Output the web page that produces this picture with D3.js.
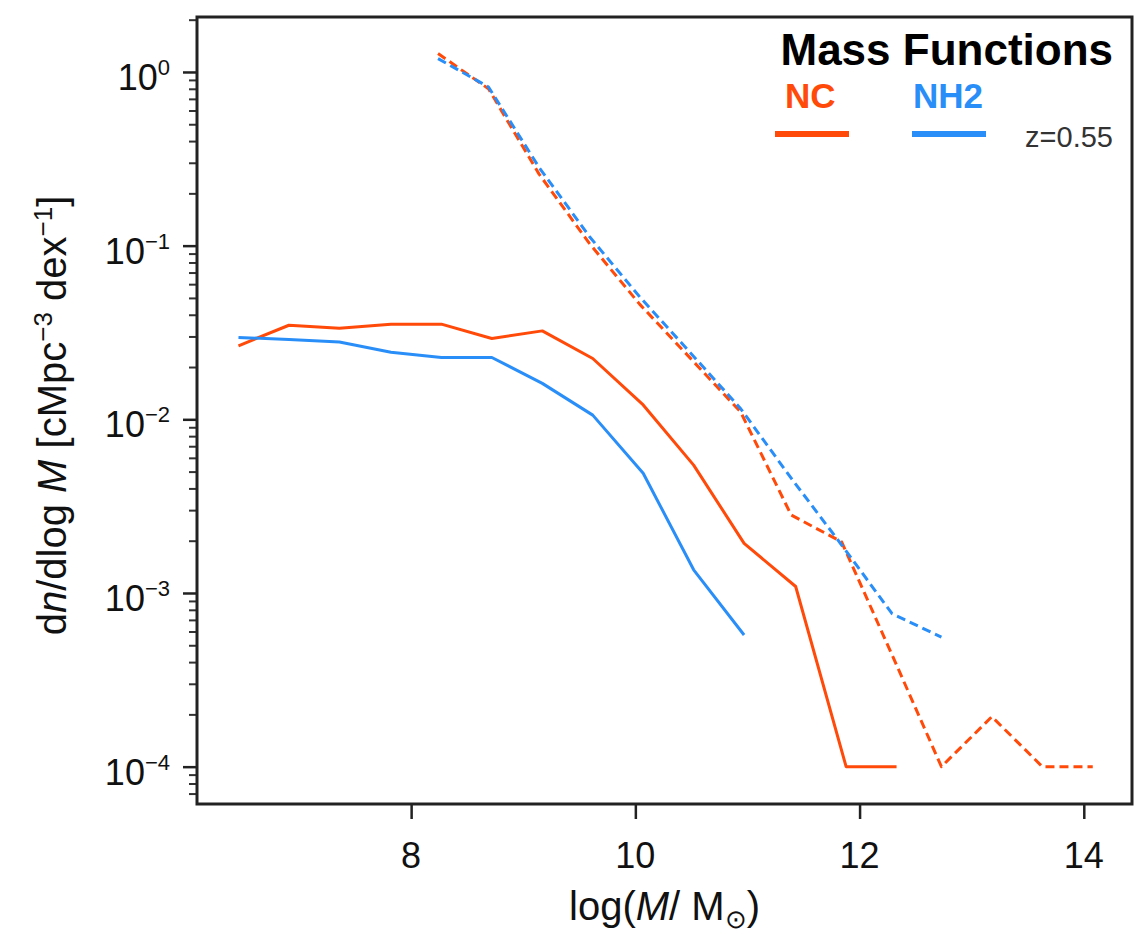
<!DOCTYPE html>
<html>
<head>
<meta charset="utf-8">
<script src="https://cdn.jsdelivr.net/npm/d3@7"></script>
<style>
  body { margin: 0; background: #fff; }
  svg { font-family: "Liberation Sans", Arial, Helvetica, sans-serif; }
</style>
</head>
<body>
<svg id="chart" width="1138" height="938"></svg>
<script>
// bin centres (log M) for the two kinds of mass function
const massSolid = [6.46, 6.91, 7.36, 7.82, 8.27, 8.72, 9.17, 9.62, 10.07, 10.52, 10.97, 11.43, 11.88, 12.33];
const massDashed = [8.24, 8.69, 9.14, 9.59, 10.04, 10.49, 10.94, 11.39, 11.84, 12.29, 12.73, 13.18, 13.63, 14.08];

// dn/dlogM values
const ncSolid = [0.0265, 0.0348, 0.0334, 0.0353, 0.0353, 0.0292, 0.0323, 0.0224, 0.0121, 0.00545, 0.00193, 0.00109, 0.0001, 0.0001];
const nh2Solid = [0.0296, 0.0288, 0.0279, 0.0243, 0.0227, 0.0227, 0.0161, 0.01057, 0.00489, 0.00136, 0.000573];
const ncDashed = [1.276, 0.80, 0.259, 0.103, 0.0459, 0.0225, 0.0110, 0.00281, 0.00197, 0.00044, 0.0001, 0.000194, 0.0001, 0.0001];
const nh2Dashed = [1.194, 0.82, 0.283, 0.113, 0.0506, 0.0242, 0.0115, 0.00458, 0.00189, 0.00076, 0.000557];

const xTicks = [8, 10, 12, 14];
const yExponents = [0, -1, -2, -3, -4];

const RED = '#ff4a0a';
const BLUE = '#2a8ef8';

(function () {
  const svg = d3.select('#chart');
  const plotLeft = 197, plotRight = 1132, plotTop = 17, plotBottom = 804;

  const x = d3.scaleLinear().domain([6.09, 14.43]).range([plotLeft, plotRight]);
  const y = d3.scaleLog().domain([Math.pow(10, -4.215), Math.pow(10, 0.3165)]).range([plotBottom, plotTop]);

  // minor log ticks
  let minor = [];
  for (let e = -5; e <= 0; e++) {
    for (let m = 2; m <= 9; m++) {
      const v = m * Math.pow(10, e);
      if (v > y.domain()[0] && v < y.domain()[1]) minor.push(v);
    }
  }

  const yMinor = svg.append('g')
    .attr('transform', 'translate(' + plotLeft + ',0)')
    .call(d3.axisLeft(y).tickValues(minor).tickSize(8).tickFormat(''));
  yMinor.select('.domain').remove();
  yMinor.selectAll('line').attr('stroke', '#333').attr('stroke-width', 2);

  const yMajor = svg.append('g')
    .attr('transform', 'translate(' + plotLeft + ',0)')
    .call(d3.axisLeft(y).tickValues(yExponents.map(e => Math.pow(10, e))).tickSize(14).tickFormat(''));
  yMajor.select('.domain').remove();
  yMajor.selectAll('line').attr('stroke', '#222').attr('stroke-width', 2.5);

  yExponents.forEach(function (e) {
    const t = svg.append('text')
      .attr('x', 170)
      .attr('y', y(Math.pow(10, e)) + 18)
      .attr('text-anchor', 'end')
      .attr('font-size', 36)
      .attr('fill', '#111');
    t.append('tspan').text('10');
    t.append('tspan')
      .attr('dy', -15)
      .attr('font-size', 22)
      .text(e === 0 ? '0' : '\u2212' + Math.abs(e));
  });

  const xAxis = svg.append('g')
    .attr('transform', 'translate(0,' + plotBottom + ')')
    .call(d3.axisBottom(x).tickValues(xTicks).tickSize(15).tickFormat(''));
  xAxis.select('.domain').remove();
  xAxis.selectAll('line').attr('stroke', '#222').attr('stroke-width', 2.5);

  svg.append('g').selectAll('text')
    .data(xTicks)
    .join('text')
    .attr('x', d => x(d))
    .attr('y', 868)
    .attr('text-anchor', 'middle')
    .attr('font-size', 36)
    .attr('fill', '#111')
    .text(d => d);

  // frame
  svg.append('rect')
    .attr('x', plotLeft).attr('y', plotTop)
    .attr('width', plotRight - plotLeft).attr('height', plotBottom - plotTop)
    .attr('fill', 'none')
    .attr('stroke', '#222')
    .attr('stroke-width', 3);

  // lines
  const line = d3.line().x(d => x(d[0])).y(d => y(d[1]));
  function drawSeries (xs, ys, color, dashed) {
    svg.append('path')
      .datum(ys.map((v, i) => [xs[i], v]))
      .attr('d', line)
      .attr('fill', 'none')
      .attr('stroke', color)
      .attr('stroke-width', 3)
      .attr('stroke-dasharray', dashed ? '9,5' : null)
      .attr('stroke-linejoin', 'round');
  }
  drawSeries(massSolid, ncSolid, RED, false);
  drawSeries(massSolid, nh2Solid, BLUE, false);
  drawSeries(massDashed, ncDashed, RED, true);
  drawSeries(massDashed, nh2Dashed, BLUE, true);

  // axis labels
  const xl = svg.append('text')
    .attr('x', (plotLeft + plotRight) / 2)
    .attr('y', 920)
    .attr('text-anchor', 'middle')
    .attr('font-size', 40)
    .attr('fill', '#111');
  xl.append('tspan').text('log(');
  xl.append('tspan').attr('font-style', 'italic').text('M');
  xl.append('tspan').text('/ M');
  xl.append('tspan').attr('dy', 8).attr('font-size', 26).text('\u2299');
  xl.append('tspan').attr('dy', -8).text(')');

  const yl = svg.append('text')
    .attr('transform', 'translate(66,' + ((plotTop + plotBottom) / 2 + 5) + ') rotate(-90)')
    .attr('text-anchor', 'middle')
    .attr('font-size', 40)
    .attr('fill', '#111');
  yl.append('tspan').text('d');
  yl.append('tspan').attr('font-style', 'italic').text('n');
  yl.append('tspan').text('/dlog ');
  yl.append('tspan').attr('font-style', 'italic').text('M');
  yl.append('tspan').text(' [cMpc');
  yl.append('tspan').attr('dy', -14).attr('font-size', 26).text('\u22123');
  yl.append('tspan').attr('dy', 14).text(' dex');
  yl.append('tspan').attr('dy', -14).attr('font-size', 26).text('\u22121');
  yl.append('tspan').attr('dy', 14).text(']');

  // legend
  svg.append('text')
    .attr('x', 1113).attr('y', 65)
    .attr('text-anchor', 'end')
    .attr('font-size', 44)
    .attr('font-weight', 'bold')
    .attr('fill', '#000')
    .text('Mass Functions');

  const legendItems = [
    { name: 'NC', color: RED, tx: 785, lx: 775 },
    { name: 'NH2', color: BLUE, tx: 913, lx: 912 }
  ];
  legendItems.forEach(function (d) {
    svg.append('text')
      .attr('x', d.tx).attr('y', 108)
      .attr('font-size', 35)
      .attr('font-weight', 'bold')
      .attr('fill', d.color)
      .text(d.name);
    svg.append('line')
      .attr('x1', d.lx).attr('x2', d.lx + 74)
      .attr('y1', 134).attr('y2', 134)
      .attr('stroke', d.color)
      .attr('stroke-width', 6);
  });

  svg.append('text')
    .attr('x', 1113).attr('y', 147)
    .attr('text-anchor', 'end')
    .attr('font-size', 29)
    .attr('fill', '#333')
    .text('z=0.55');
})();
</script>
</body>
</html>
